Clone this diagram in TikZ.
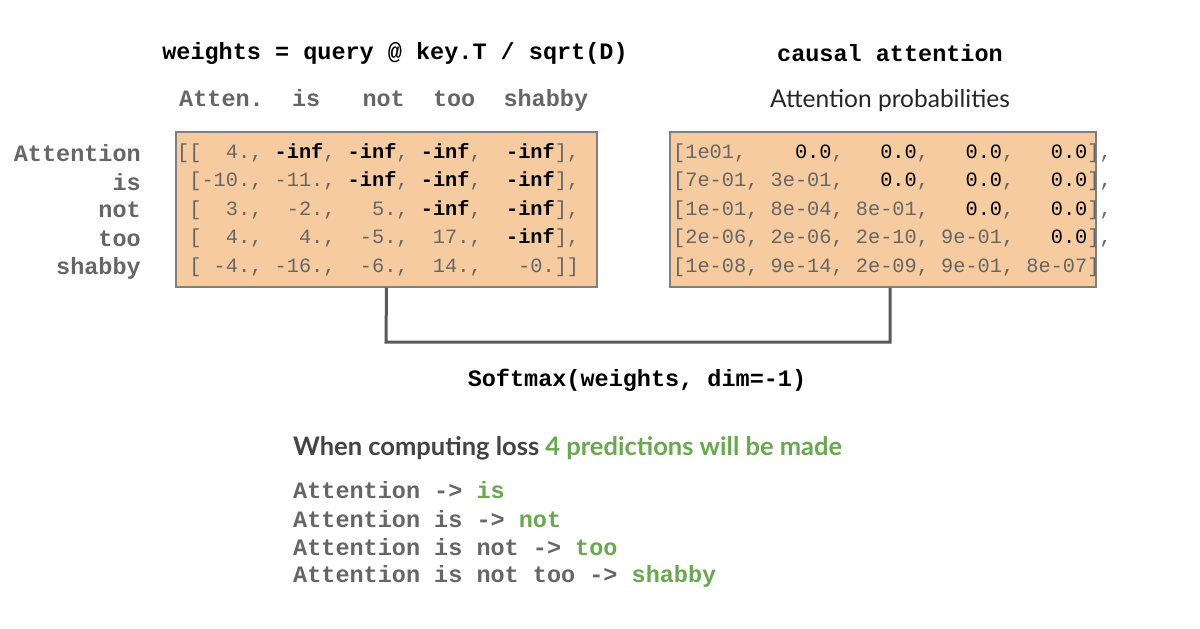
\documentclass[tikz,border=0pt]{standalone}
\usepackage{fontspec}
\setmonofont{Liberation Mono}
\newfontfamily\latofont{Lato}
\definecolor{txtgray}{HTML}{666666}
\definecolor{darkgray}{HTML}{434343}
\definecolor{boxfill}{HTML}{F6CBA0}
\definecolor{boxline}{HTML}{7F7F7F}
\definecolor{linegray}{HTML}{595959}
\definecolor{predgreen}{HTML}{6AA84F}
\tikzset{
  code/.style={inner sep=0pt, font=\ttfamily\bfseries\fontsize{23.5}{28}\selectfont},
  graylabel/.style={code, text=txtgray},
  matrow/.style={inner sep=0pt, anchor=west, text=txtgray, font=\ttfamily\fontsize{20.3}{24}\selectfont},
  matbox/.style={draw=boxline, line width=1.5pt, fill=boxfill},
  conn/.style={draw=linegray, line width=3pt},
}
\newcommand{\blk}[1]{\textcolor{black}{\bfseries #1}}
\newcommand{\blkr}[1]{\textcolor{black}{#1}}
\begin{document}
\begin{tikzpicture}[x=1pt,y=-1pt]
\useasboundingbox (0,0) rectangle (1200,629);
% titles
\node[code, anchor=center] (t1) at (395,53) {weights = query @ key.T / sqrt(D)};
\node[code, anchor=center] (t2) at (890,53) {causal attention};
\node[graylabel, anchor=west] (hdr) at (179,100) {Atten.\ \ is\ \ \ not\ \ too\ \ shabby};
\node[inner sep=0pt, font=\latofont\fontsize{24.5}{28}\selectfont, text=black!85] (t3) at (890,101) {Attention probabilities};
% boxes
\node[matbox, minimum width=421pt, minimum height=155pt, inner sep=0pt] (lbox) at (386.5,209.5) {};
\node[matbox, minimum width=426pt, minimum height=155pt, inner sep=0pt] (rbox) at (883,209.5) {};
% row labels
\node[graylabel, anchor=east] (r1) at (141,153) {Attention};
\node[graylabel, anchor=east] (r2) at (141,182) {is};
\node[graylabel, anchor=east] (r3) at (141,210) {not};
\node[graylabel, anchor=east] (r4) at (141,239) {too};
\node[graylabel, anchor=east] (r5) at (141,268) {shabby};
% left matrix
\node[matrow] (l1) at (177,153) {[[\ \ 4., \blk{-inf}, \blk{-inf}, \blk{-inf},\ \ \blk{-inf}],};
\node[matrow] (l2) at (177,181) {\ [-10., -11., \blk{-inf}, \blk{-inf},\ \ \blk{-inf}],};
\node[matrow] (l3) at (177,210) {\ [\ \ 3.,\ \ -2.,\ \ \ 5., \blk{-inf},\ \ \blk{-inf}],};
\node[matrow] (l4) at (177,238) {\ [\ \ 4.,\ \ \ 4.,\ \ -5.,\ \ 17.,\ \ \blk{-inf}],};
\node[matrow] (l5) at (177,267) {\ [ -4., -16.,\ \ -6.,\ \ 14.,\ \ \ -0.]]};
% right matrix
\node[matrow] (p1) at (673,153) {[1e01,\ \ \ \ \blkr{0.0},\ \ \ \blkr{0.0},\ \ \ \blkr{0.0},\ \ \ \blkr{0.0}],};
\node[matrow] (p2) at (673,181) {[7e-01, 3e-01,\ \ \ \blkr{0.0},\ \ \ \blkr{0.0},\ \ \ \blkr{0.0}],};
\node[matrow] (p3) at (673,210) {[1e-01, 8e-04, 8e-01,\ \ \ \blkr{0.0},\ \ \ \blkr{0.0}],};
\node[matrow] (p4) at (673,238) {[2e-06, 2e-06, 2e-10, 9e-01,\ \ \ \blkr{0.0}],};
\node[matrow] (p5) at (673,267) {[1e-08, 9e-14, 2e-09, 9e-01, 8e-07]};
% connector
\coordinate (c1) at (386,342);
\coordinate (c2) at (890,342);
\draw[conn] (lbox.south) -- (c1) -- (c2) -- (rbox.south -| c2);
\node[code, anchor=center] (sm) at (637,380) {Softmax(weights, dim=-1)};
% bottom
\node[inner sep=0pt, anchor=west, font=\latofont\bfseries\fontsize{25.5}{29}\selectfont, text=darkgray] (loss) at (293,448) {When computing loss \textcolor{predgreen}{4 predictions will be made}};
\node[graylabel, anchor=west] (b1) at (293,490) {Attention -> \textcolor{predgreen}{is}};
\node[graylabel, anchor=west] (b2) at (293,519) {Attention is -> \textcolor{predgreen}{not}};
\node[graylabel, anchor=west] (b3) at (293,547) {Attention is not -> \textcolor{predgreen}{too}};
\node[graylabel, anchor=west] (b4) at (293,576) {Attention is not too -> \textcolor{predgreen}{shabby}};
\end{tikzpicture}
\end{document}
